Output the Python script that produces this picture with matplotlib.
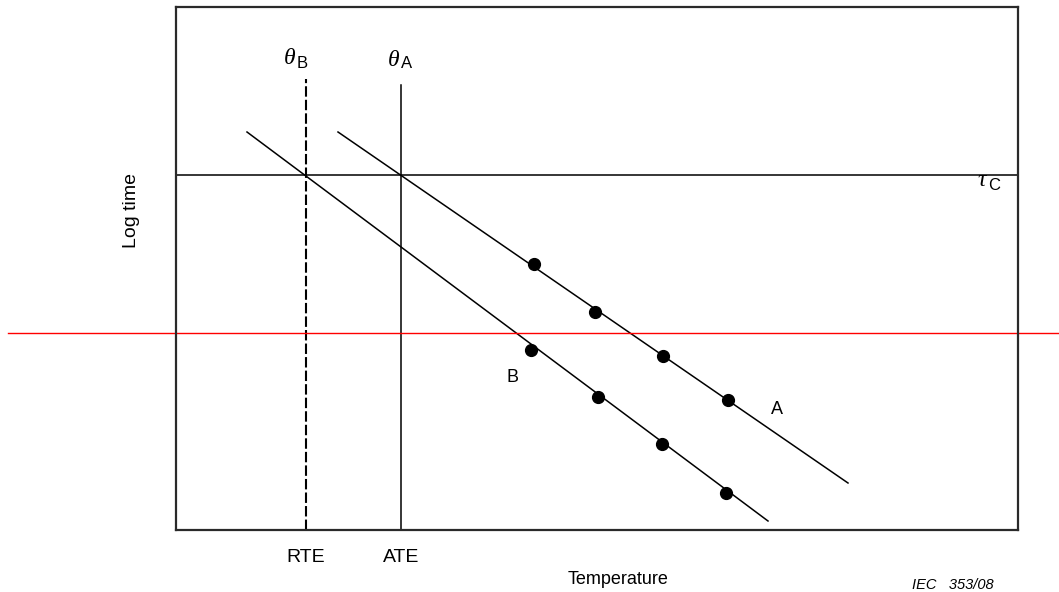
import matplotlib
matplotlib.use("Agg")
import matplotlib.pyplot as plt

plt.rcParams['font.family'] = ['Liberation Sans', 'DejaVu Sans']

# Chart units: temperature (arbitrary, 0..842), log time (arbitrary, 0..523)
x_range = [0, 842]
y_range = [0, 523]

# Regression lines (end points)
line_A_x = [162, 672]
line_A_y = [398, 47]
line_B_x = [71, 592]
line_B_y = [398, 9]

# Measured points
pts_A_x = [358, 419, 487, 552]
pts_A_y = [266, 218, 174, 130]
pts_B_x = [355, 422, 486, 550]
pts_B_y = [180, 133, 86, 37]

# Reference levels
tau_C = 355
theta_B = 130   # RTE
theta_A = 225   # ATE
theta_B_top = 451
theta_A_top = 445
red_level = 197

tick_pos = [theta_B, theta_A]
tick_labels = ['RTE', 'ATE']

W, H = 1059, 592
fig = plt.figure(figsize=(W / 100, H / 100), dpi=100)
ax = fig.add_axes([176 / W, (H - 530) / H, 842 / W, 523 / H])
ax.set_xlim(*x_range)
ax.set_ylim(*y_range)

for s in ax.spines.values():
    s.set_color('#2a2a2a')
    s.set_linewidth(1.6)

lc = 'black'
lw = 1.1
ax.plot(line_A_x, line_A_y, color=lc, lw=lw)
ax.plot(line_B_x, line_B_y, color=lc, lw=lw)
ax.plot(pts_A_x, pts_A_y, 'o', color='black', ms=8.5, mec='black')
ax.plot(pts_B_x, pts_B_y, 'o', color='black', ms=8.5, mec='black')

ax.axhline(tau_C, color=lc, lw=lw)
ax.plot([theta_A, theta_A], [0, theta_A_top], color=lc, lw=lw)
ax.plot([theta_B, theta_B], [0, theta_B_top], color=lc, lw=1.5, dashes=(5, 1.5))

# red line extending beyond the axes
ax.axhline(red_level, xmin=(8 - 176) / 842, xmax=(1059 - 176) / 842,
           color='#ff0000', lw=1.0, clip_on=False)

ax.set_xticks(tick_pos)
ax.set_xticklabels(tick_labels, fontsize=14)
ax.tick_params(axis='x', length=0, pad=14)
ax.set_yticks([])

fig.text(618 / W, 1 - 579 / H, 'Temperature', fontsize=13, ha='center', va='center')
fig.text(131 / W, 1 - 210 / H, 'Log time', fontsize=14, rotation=90,
         ha='center', va='center')

greek = dict(family=['Liberation Serif', 'DejaVu Serif'], style='italic', fontsize=17,
             ha='center', va='center')
# theta labels
ax.text(theta_B - 16, theta_B_top + 20, 'θ', **greek)
ax.text(theta_B - 9, theta_B_top + 15, 'B', fontsize=12, ha='left', va='center')
ax.text(theta_A - 7, theta_A_top + 25, 'θ', **greek)
ax.text(theta_A, theta_A_top + 21, 'A', fontsize=12, ha='left', va='center')

# tau label
ax.text(806, tau_C - 5, 'τ', **greek)
ax.text(812, tau_C - 11, 'C', fontsize=12, ha='left', va='center')

# series labels
ax.text(337, 152, 'B', fontsize=13, ha='center', va='center')
ax.text(601, 121, 'A', fontsize=13, ha='center', va='center')

fig.text(912 / W, 1 - 585 / H, 'IEC   353/08', fontsize=10.5, style='italic',
         ha='left', va='center')

fig.savefig('out.png', dpi=100, facecolor='white')
